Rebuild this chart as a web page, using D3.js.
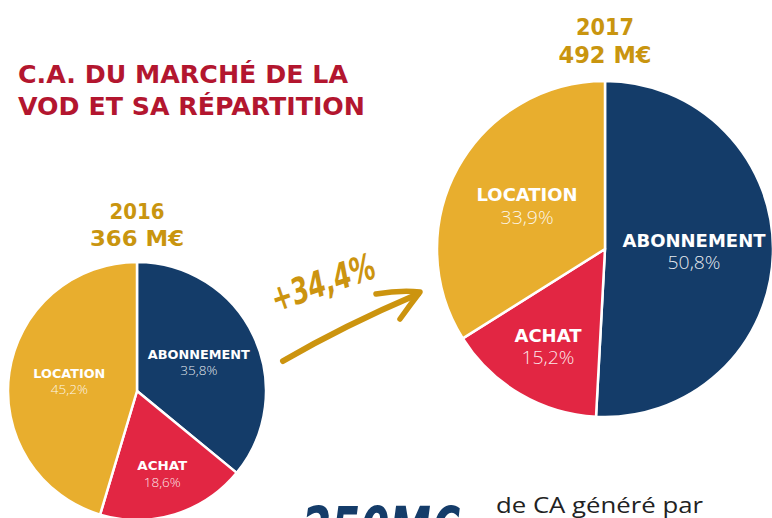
<!DOCTYPE html>
<html>
<head>
<meta charset="utf-8">
<script src="https://cdn.jsdelivr.net/npm/d3@7"></script>
<style>
  html, body { margin: 0; padding: 0; background: #fff; }
  svg { display: block; }
</style>
</head>
<body>
<svg id="chart" width="772" height="518"></svg>
<script>
// chart data
const categories = ["ABONNEMENT", "ACHAT", "LOCATION"];
const values2016 = [35.8, 18.6, 45.2];
const values2017 = [50.8, 15.2, 33.9];
const years = ["2016", "2017"];
const totals = ["366 M€", "492 M€"];
const growth = "+34,4%";
const titleLines = ["C.A. DU MARCHÉ DE LA", "VOD ET SA RÉPARTITION"];

const colors = d3.scaleOrdinal()
    .domain(categories)
    .range(["#143c69", "#e22643", "#e8ae2e"]);

const svg = d3.select("#chart");
const fmt = v => d3.format(".1f")(v).replace(".", ",") + "%";

// title
svg.append("g")
    .selectAll("text")
    .data(titleLines)
    .join("text")
    .attr("x", 18)
    .attr("y", (d, i) => 83 + i * 32)
    .attr("fill", "#b3162f")
    .attr("font-family", "DejaVu Sans")
    .attr("font-weight", 700)
    .attr("font-size", 24)
    .attr("textLength", (d, i) => i === 0 ? 330 : 347)
    .attr("lengthAdjust", "spacingAndGlyphs")
    .text(d => d);

const pies = [
    { values: values2016, cx: 137, cy: 391, r: 129, year: years[0], total: totals[0],
      labelSize: 13, pctSize: 13.5, titleSize: 22, yearY: 219, totalY: 246,
      yearW: 55, totalW: 94, labelW: [102, 50, 72], pctW: 37 },
    { values: values2017, cx: 605, cy: 249, r: 168, year: years[1], total: totals[1],
      labelSize: 18, pctSize: 18, titleSize: 23, yearY: 35, totalY: 63,
      yearW: 58, totalW: 93, labelW: [143, 67, 101], pctW: 53 }
];
// label distance from centre as a share of radius
const labelRatio = [0.53, 0.67, 0.53];

const pie = d3.pie().sort(null).value(d => d.value);

pies.forEach(p => {
    const data = categories.map((c, i) => ({ cat: c, value: p.values[i], i }));
    const arcs = pie(data);
    const arc = d3.arc().innerRadius(0).outerRadius(p.r);
    const g = svg.append("g").attr("transform", `translate(${p.cx},${p.cy})`);

    g.selectAll("path")
        .data(arcs)
        .join("path")
        .attr("d", arc)
        .attr("fill", d => colors(d.data.cat))
        .attr("stroke", "#fff")
        .attr("stroke-width", 2.5)
        .attr("stroke-linejoin", "round");

    const lab = g.selectAll("g.lab")
        .data(arcs)
        .join("g")
        .attr("class", "lab")
        .attr("transform", d => {
            const rr = p.r * labelRatio[d.data.i];
            const [x, y] = d3.arc().innerRadius(rr).outerRadius(rr).centroid(d);
            return `translate(${x},${y})`;
        });

    lab.append("text")
        .attr("text-anchor", "middle")
        .attr("y", -p.labelSize * 0.25)
        .attr("fill", "#fff")
        .attr("font-family", "DejaVu Sans")
        .attr("font-weight", 700)
        .attr("font-size", p.labelSize)
        .attr("textLength", d => p.labelW[d.data.i])
        .attr("lengthAdjust", "spacingAndGlyphs")
        .text(d => d.data.cat);

    lab.append("text")
        .attr("text-anchor", "middle")
        .attr("y", p.labelSize * 1.0)
        .attr("fill", "#fff")
        .attr("fill-opacity", 0.9)
        .attr("font-family", "Open Sans")
        .attr("font-weight", 300)
        .attr("font-size", p.pctSize)
        .attr("textLength", p.pctW)
        .attr("lengthAdjust", "spacingAndGlyphs")
        .text(d => fmt(d.data.value));

    // year and total above the pie
    svg.append("text")
        .attr("x", p.cx).attr("y", p.yearY)
        .attr("text-anchor", "middle")
        .attr("fill", "#c9950f")
        .attr("font-family", "DejaVu Sans")
        .attr("font-weight", 700)
        .attr("font-size", p.titleSize)
        .attr("textLength", p.yearW)
        .attr("lengthAdjust", "spacingAndGlyphs")
        .text(p.year);
    svg.append("text")
        .attr("x", p.cx).attr("y", p.totalY)
        .attr("text-anchor", "middle")
        .attr("fill", "#c9950f")
        .attr("font-family", "DejaVu Sans")
        .attr("font-weight", 700)
        .attr("font-size", p.titleSize)
        .attr("textLength", p.totalW)
        .attr("lengthAdjust", "spacingAndGlyphs")
        .text(p.total);
});

// growth annotation with hand-drawn arrow
const gold = "#cc940f";
svg.append("text")
    .attr("transform", "translate(276,312) rotate(-19)")
    .attr("fill", gold)
    .attr("font-family", "Liberation Sans Narrow, DejaVu Sans Condensed, sans-serif")
    .attr("font-weight", 700)
    .attr("font-style", "italic")
    .attr("font-size", 36)
    .attr("textLength", 108)
    .attr("lengthAdjust", "spacingAndGlyphs")
    .text(growth);

const shaft = d3.path();
shaft.moveTo(283, 361);
shaft.quadraticCurveTo(345, 325, 418, 294);
svg.append("path")
    .attr("d", shaft.toString())
    .attr("fill", "none")
    .attr("stroke", gold)
    .attr("stroke-width", 6)
    .attr("stroke-linecap", "round");

const head = d3.path();
head.moveTo(376, 294);
head.quadraticCurveTo(400, 290, 420, 292);
head.quadraticCurveTo(410, 305, 400, 319);
svg.append("path")
    .attr("d", head.toString())
    .attr("fill", "none")
    .attr("stroke", gold)
    .attr("stroke-width", 5.5)
    .attr("stroke-linecap", "round")
    .attr("stroke-linejoin", "round");

// bottom teaser text (cut off by the frame, as in the source page)
svg.append("text")
    .attr("x", 302).attr("y", 550)
    .attr("fill", "#143c69")
    .attr("font-family", "DejaVu Sans")
    .attr("font-weight", 700)
    .attr("font-style", "italic")
    .attr("font-size", 60)
    .attr("textLength", 158)
    .attr("lengthAdjust", "spacingAndGlyphs")
    .text("250M€");

svg.append("text")
    .attr("x", 496).attr("y", 513)
    .attr("fill", "#222")
    .attr("font-family", "Open Sans")
    .attr("font-size", 22)
    .attr("textLength", 207)
    .attr("lengthAdjust", "spacingAndGlyphs")
    .text("de CA généré par");
</script>
</body>
</html>
